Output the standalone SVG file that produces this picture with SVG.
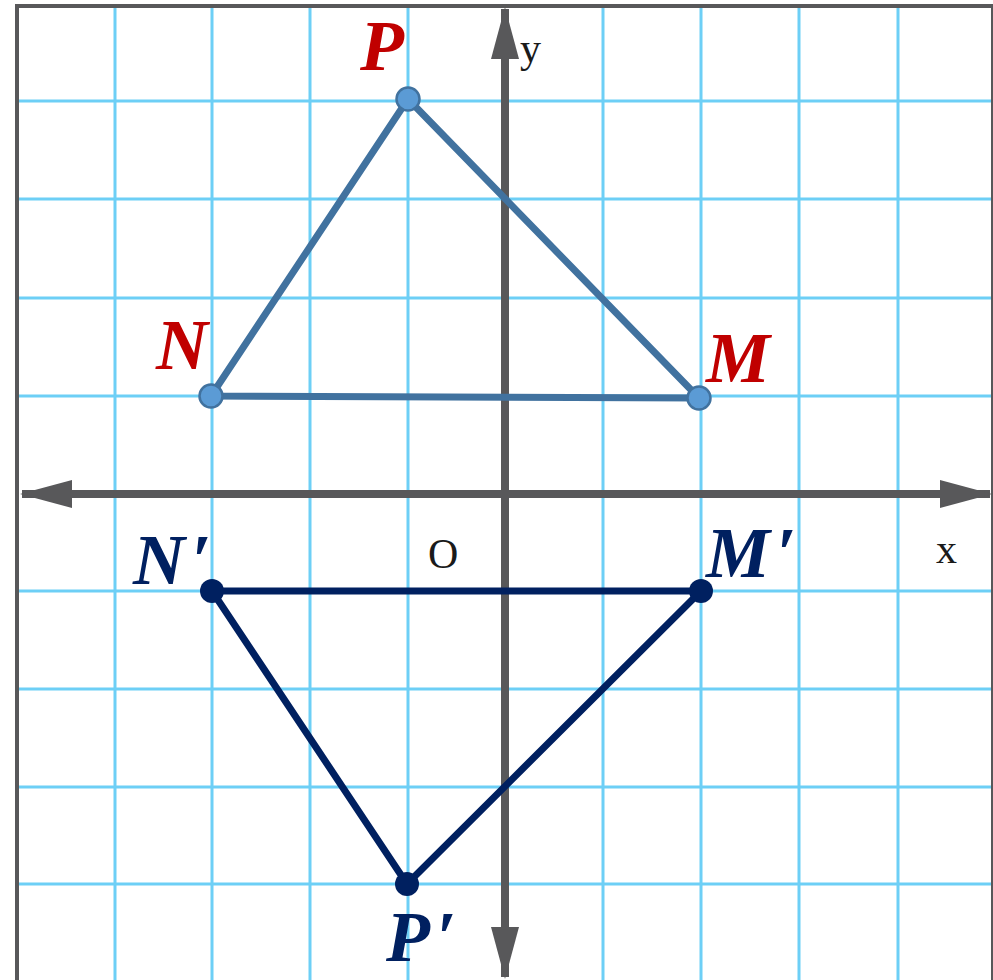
<svg xmlns="http://www.w3.org/2000/svg" width="993" height="980" viewBox="0 0 993 980">
<style>
.grid{stroke:#6dcff6;stroke-width:3;fill:none}
.border{stroke:#58585a;fill:none}
.axis{stroke:#58585a;stroke-width:8;fill:none}
.tri1{stroke:#41729f;stroke-width:7;fill:none;stroke-linejoin:round}
.pt1{fill:#5b9bd5;stroke:#41729f;stroke-width:2.5}
.tri2{stroke:#002060;stroke-width:7;fill:none;stroke-linejoin:round}
.pt2{fill:#002060}
.lbl{font-family:"Liberation Serif","Times New Roman",serif;font-weight:bold;font-style:italic;font-size:72px}
.red{fill:#c00000}
.navy{fill:#002060}
.ax{font-family:"Liberation Serif","Times New Roman",serif;font-size:42px;fill:#1a1a1a}
</style>
<defs>
<marker id="ah" viewBox="0 0 52 28" refX="50" refY="14" markerWidth="52" markerHeight="28" markerUnits="userSpaceOnUse" orient="auto">
<path d="M0,0 L52,14 L0,28 Z" fill="#58585a"/>
</marker>
</defs>
<rect width="993" height="980" fill="#ffffff"/>
<g id="grid">
<line class="grid" x1="115" y1="6" x2="115" y2="980"/>
<line class="grid" x1="212" y1="6" x2="212" y2="980"/>
<line class="grid" x1="310" y1="6" x2="310" y2="980"/>
<line class="grid" x1="408" y1="6" x2="408" y2="980"/>
<line class="grid" x1="603" y1="6" x2="603" y2="980"/>
<line class="grid" x1="701" y1="6" x2="701" y2="980"/>
<line class="grid" x1="799" y1="6" x2="799" y2="980"/>
<line class="grid" x1="898" y1="6" x2="898" y2="980"/>
<line class="grid" x1="17" y1="101" x2="993" y2="101"/>
<line class="grid" x1="17" y1="199" x2="993" y2="199"/>
<line class="grid" x1="17" y1="298" x2="993" y2="298"/>
<line class="grid" x1="17" y1="396" x2="993" y2="396"/>
<line class="grid" x1="17" y1="591" x2="993" y2="591"/>
<line class="grid" x1="17" y1="689" x2="993" y2="689"/>
<line class="grid" x1="17" y1="787" x2="993" y2="787"/>
<line class="grid" x1="17" y1="884" x2="993" y2="884"/>
<line class="border" stroke-width="4" x1="17" y1="4" x2="17" y2="980"/>
<line class="border" stroke-width="4" x1="15" y1="6" x2="993" y2="6"/>
<line class="border" stroke-width="2" x1="992" y1="6" x2="992" y2="980"/>
</g>
<g id="axes">
<line class="axis" x1="505" y1="494" x2="22" y2="494" marker-end="url(#ah)"/>
<line class="axis" x1="505" y1="494" x2="990" y2="494" marker-end="url(#ah)"/>
<line class="axis" x1="505" y1="494" x2="505" y2="9" marker-end="url(#ah)"/>
<line class="axis" x1="505" y1="494" x2="505" y2="977" marker-end="url(#ah)"/>
<text class="ax" x="520" y="62">y</text>
<text class="ax" x="936" y="563">x</text>
<text class="ax" x="428" y="568">O</text>
</g>
<g id="connectors">
<polygon class="tri1" points="408,99 211,396 699,398"/>
<polygon class="tri2" points="212,591 701,591 407,884"/>
</g>
<g id="P"><circle class="pt1" cx="408" cy="99" r="11.5"/><text class="lbl red" x="360" y="70">P</text></g>
<g id="N"><circle class="pt1" cx="211" cy="396" r="11.5"/><text class="lbl red" x="156" y="369">N</text></g>
<g id="M"><circle class="pt1" cx="699" cy="398" r="11.5"/><text class="lbl red" x="706" y="382">M</text></g>
<g id="N-prime"><circle class="pt2" cx="212" cy="591" r="12"/><text class="lbl navy" x="133" y="584">N<tspan dx="6">′</tspan></text></g>
<g id="M-prime"><circle class="pt2" cx="701" cy="591" r="12"/><text class="lbl navy" x="706" y="577">M<tspan dx="6">′</tspan></text></g>
<g id="P-prime"><circle class="pt2" cx="407" cy="884" r="12"/><text class="lbl navy" x="386" y="961" font-size="66">P<tspan dx="6">′</tspan></text></g>
</svg>
